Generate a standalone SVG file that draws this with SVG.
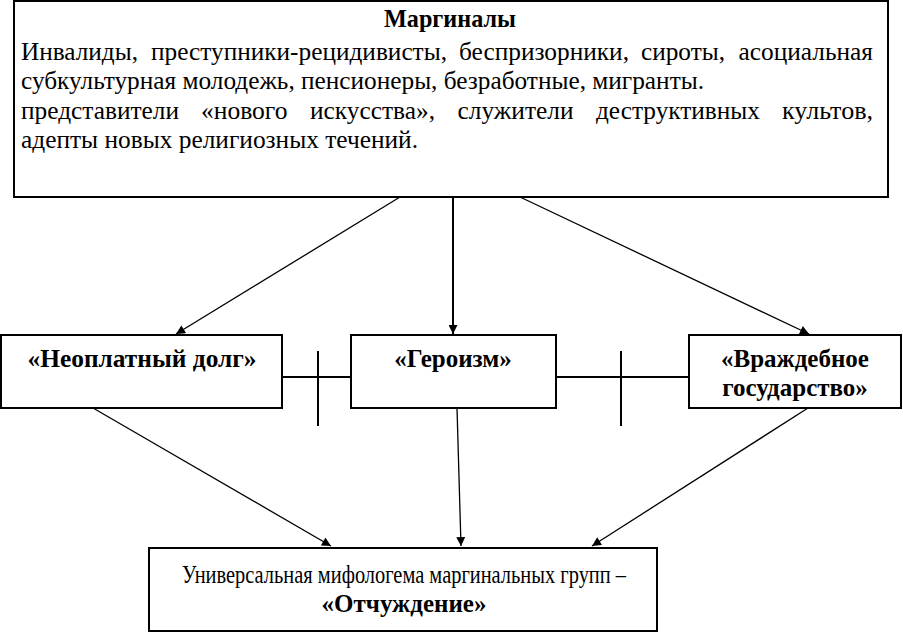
<svg xmlns="http://www.w3.org/2000/svg" width="903" height="633" viewBox="0 0 903 633" font-family="Liberation Serif, serif">
<defs>
<marker id="ah" viewBox="0 0 10 10" refX="10" refY="5" markerWidth="10" markerHeight="9" markerUnits="userSpaceOnUse" orient="auto">
<path d="M0,0 L10,5 L0,10 z" fill="#000"/>
</marker>
</defs>
<rect width="903" height="633" fill="#fff"/>
<g id="connectors" stroke="#000" fill="none">
<line stroke-width="1.3" x1="400" y1="197" x2="176" y2="334" marker-end="url(#ah)"/>
<line stroke-width="2" x1="453" y1="197" x2="453" y2="334" marker-end="url(#ah)"/>
<line stroke-width="1.3" x1="520" y1="197" x2="809" y2="334" marker-end="url(#ah)"/>
<line stroke-width="1.3" x1="93" y1="408" x2="331" y2="546" marker-end="url(#ah)"/>
<line stroke-width="1.3" x1="457" y1="408" x2="461" y2="546" marker-end="url(#ah)"/>
<line stroke-width="1.3" x1="808" y1="408" x2="592" y2="546" marker-end="url(#ah)"/>
<line stroke-width="2" x1="282" y1="377" x2="351" y2="377"/>
<line stroke-width="2" x1="318" y1="351" x2="318" y2="426"/>
<line stroke-width="2" x1="556" y1="377" x2="689" y2="377"/>
<line stroke-width="2" x1="621" y1="351" x2="621" y2="426"/>
</g>
<g id="marginals">
<rect x="14" y="1" width="874" height="196" fill="#fff" stroke="#000" stroke-width="2"/>
<text font-family="Liberation Serif" font-size="25" font-weight="bold" text-anchor="middle" x="450" y="27" textLength="132" lengthAdjust="spacingAndGlyphs">Маргиналы</text>
<text font-family="Liberation Serif" font-size="25" y="60"><tspan x="21" textLength="117" lengthAdjust="spacingAndGlyphs">Инвалиды,</tspan><tspan x="151" textLength="296" lengthAdjust="spacingAndGlyphs">преступники-рецидивисты,</tspan><tspan x="459" textLength="170" lengthAdjust="spacingAndGlyphs">беспризорники,</tspan><tspan x="641" textLength="84" lengthAdjust="spacingAndGlyphs">сироты,</tspan><tspan x="738.5" textLength="134.5" lengthAdjust="spacingAndGlyphs">асоциальная</tspan></text>
<text font-family="Liberation Serif" font-size="25" x="21" y="89" textLength="683" lengthAdjust="spacingAndGlyphs">субкультурная молодежь, пенсионеры, безработные, мигранты.</text>
<text font-family="Liberation Serif" font-size="25" y="119"><tspan x="21" textLength="158" lengthAdjust="spacingAndGlyphs">представители</tspan><tspan x="201" textLength="86.5" lengthAdjust="spacingAndGlyphs">«нового</tspan><tspan x="310" textLength="125" lengthAdjust="spacingAndGlyphs">искусства»,</tspan><tspan x="457.5" textLength="116" lengthAdjust="spacingAndGlyphs">служители</tspan><tspan x="596" textLength="164" lengthAdjust="spacingAndGlyphs">деструктивных</tspan><tspan x="782" textLength="91" lengthAdjust="spacingAndGlyphs">культов,</tspan></text>
<text font-family="Liberation Serif" font-size="25" x="21" y="148" textLength="397" lengthAdjust="spacingAndGlyphs">адепты новых религиозных течений.</text>
</g>
<g id="debt">
<rect x="1" y="335" width="281" height="73" fill="#fff" stroke="#000" stroke-width="2"/>
<text font-family="Liberation Serif" font-size="25" font-weight="bold" text-anchor="middle" x="142" y="367" textLength="229" lengthAdjust="spacingAndGlyphs">«Неоплатный долг»</text>
</g>
<g id="heroism">
<rect x="351" y="335" width="205" height="73" fill="#fff" stroke="#000" stroke-width="2"/>
<text font-family="Liberation Serif" font-size="25" font-weight="bold" text-anchor="middle" x="453" y="367">«Героизм»</text>
</g>
<g id="hostile">
<rect x="689" y="335" width="212" height="73" fill="#fff" stroke="#000" stroke-width="2"/>
<text font-family="Liberation Serif" font-size="25" font-weight="bold" text-anchor="middle" x="795" y="367">«Враждебное</text>
<text font-family="Liberation Serif" font-size="25" font-weight="bold" text-anchor="middle" x="795" y="396">государство»</text>
</g>
<g id="alienation">
<rect x="149" y="548" width="508" height="83" fill="#fff" stroke="#000" stroke-width="2"/>
<text font-family="Liberation Serif" font-size="25" text-anchor="middle" x="404" y="583" textLength="444" lengthAdjust="spacingAndGlyphs">Универсальная мифологема маргинальных групп –</text>
<text font-family="Liberation Serif" font-size="25" font-weight="bold" text-anchor="middle" x="404" y="612">«Отчуждение»</text>
</g>
</svg>
